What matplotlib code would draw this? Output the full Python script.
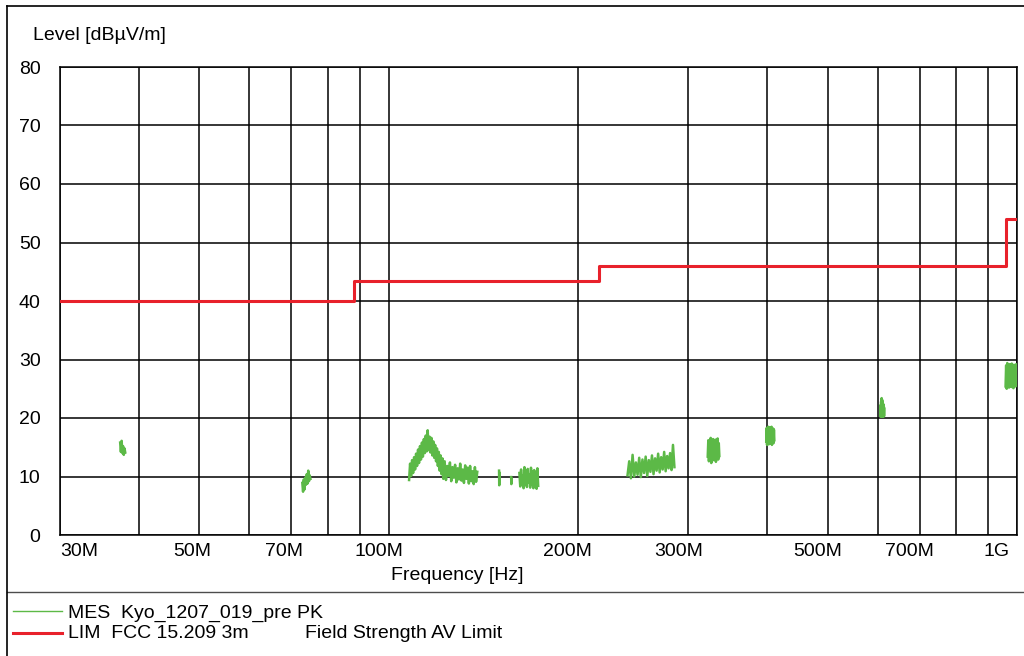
import matplotlib.pyplot as plt
from matplotlib.lines import Line2D
from matplotlib.transforms import ScaledTranslation

plt.rcParams['font.family'] = ['Liberation Sans', 'DejaVu Sans']
plt.rcParams['font.size'] = 14

# FCC 15.209 3m AV limit (MHz, dBuV/m)
lim_freq = [30, 88, 216, 960, 1000]
lim_level = [40, 43.5, 46, 54, 54]

seg1_f = [37.4, 37.5, 37.6, 37.7, 37.8, 37.9, 38.0, 38.1]
seg1_l = [15.8, 14.2, 16.1, 14.0, 15.2, 13.7, 14.8, 14.1]

seg2_f = [72.9, 73.1, 73.3, 73.5, 73.7, 73.9, 74.1, 74.3, 74.5, 74.7, 74.9, 75.1]
seg2_l = [8.9, 7.4, 9.5, 7.8, 9.8, 8.6, 10.4, 8.8, 11.0, 9.2, 10.2, 9.6]

seg3_f = [107.8, 108.2, 108.6, 109.0, 109.4, 109.8, 110.2, 110.6, 111.0, 111.4,
          111.8, 112.2, 112.6, 113.0, 113.4, 113.8, 114.2, 114.6, 115.0, 115.4,
          115.8, 116.2, 116.6, 117.0, 117.4, 117.8, 118.2, 118.6, 119.0, 119.4,
          119.8, 120.2, 120.6, 121.0, 121.4, 121.8, 122.2, 122.8, 123.4, 124.0,
          124.6, 125.2, 125.8, 126.4, 127.0, 127.6, 128.2, 128.8, 129.4, 130.0,
          130.6, 131.2, 131.8, 132.4, 133.0, 133.6, 134.2, 134.8, 135.4, 136.0,
          136.6, 137.2, 137.8, 138.4]
seg3_l = [9.4, 12.2, 10.1, 12.8, 10.6, 13.3, 11.2, 13.9, 11.8, 14.6,
          12.3, 15.2, 12.9, 15.8, 13.4, 16.4, 14.0, 17.0, 14.3, 17.9,
          14.5, 16.8, 14.1, 16.6, 13.6, 16.0, 13.2, 15.4, 12.6, 14.8,
          11.8, 14.2, 11.0, 13.6, 10.4, 13.1, 9.6, 12.6, 9.4, 11.8,
          10.1, 12.4, 9.2, 11.6, 9.8, 12.0, 9.0, 11.4, 9.5, 12.2,
          9.3, 11.2, 8.9, 11.9, 9.6, 11.5, 8.8, 11.8, 9.2, 10.9,
          8.7, 11.6, 9.1, 10.8]

seg4_f = [149.9, 150.0, 150.1]
seg4_l = [11.0, 8.5, 10.6]

seg5_f = [156.7, 156.8, 156.9]
seg5_l = [9.9, 8.7, 9.6]

seg6_f = [161.5, 162.0, 162.5, 163.0, 163.5, 164.0, 164.5, 165.0, 165.5, 166.0,
          166.5, 167.0, 167.5, 168.0, 168.5, 169.0, 169.5, 170.0, 170.5, 171.0,
          171.5, 172.0, 172.5, 173.0]
seg6_l = [10.6, 8.3, 11.2, 8.9, 10.1, 8.0, 11.6, 8.6, 10.8, 8.2,
          11.3, 9.0, 10.4, 8.1, 11.5, 8.7, 10.9, 8.0, 11.1, 8.5,
          10.7, 7.9, 11.4, 8.4]

seg7_f = [240, 241.5, 243, 244.5, 246, 247.5, 249, 250.5, 252, 253.5,
          255, 256.5, 258, 259.5, 261, 262.5, 264, 265.5, 267, 268.5,
          270, 271.5, 273, 274.5, 276, 277.5, 279, 280.5, 282, 283.5, 285]
seg7_l = [10.2, 12.6, 9.7, 13.7, 10.0, 12.4, 10.3, 13.2, 9.9, 12.9,
          10.6, 13.4, 10.1, 12.8, 10.8, 13.6, 10.4, 13.1, 11.0, 13.9,
          10.7, 13.3, 11.2, 14.2, 10.9, 13.5, 11.4, 14.0, 11.1, 15.4, 11.6]

seg8_f = [322.0, 322.7, 323.4, 324.1, 324.8, 325.5, 326.2, 326.9, 327.6, 328.3,
          329.0, 329.7, 330.4, 331.1, 331.8, 332.5, 333.2, 333.9, 334.6, 335.3, 336.0]
seg8_l = [13.4, 16.2, 12.6, 15.8, 13.1, 16.6, 12.3, 15.5, 13.6, 16.4,
          12.8, 15.9, 13.2, 16.3, 12.5, 15.6, 13.0, 16.5, 12.9, 15.7, 13.5]

seg9_f = [399.0, 399.6, 400.2, 400.8, 401.4, 402.0, 402.6, 403.2, 403.8, 404.4,
          405.0, 405.6, 406.2, 406.8, 407.4, 408.0, 408.6, 409.2, 409.8, 410.4, 411.0]
seg9_l = [16.0, 18.3, 15.4, 18.0, 15.8, 18.5, 15.5, 17.8, 16.1, 18.4,
          15.6, 18.1, 15.9, 18.5, 15.4, 17.9, 16.0, 18.2, 15.7, 18.0, 16.2]

seg10_f = [606.0, 606.6, 607.2, 607.8, 608.4, 609.0, 609.6, 610.2, 610.8, 611.4,
           612.0, 612.6, 613.2, 613.8, 614.4, 615.0]
seg10_l = [20.4, 22.2, 20.2, 22.8, 20.5, 23.4, 20.3, 23.1, 20.6, 22.7,
           20.2, 22.4, 20.5, 22.0, 20.3, 21.6]

seg11_f = [959, 961, 963, 965, 967, 969, 971, 973, 975, 977,
           979, 981, 983, 985, 987, 989, 991, 993, 995, 997, 999]
seg11_l = [25.4, 29.0, 25.0, 29.4, 25.6, 28.7, 25.2, 29.2, 25.8, 28.9,
           25.3, 29.3, 25.5, 28.6, 25.1, 29.1, 25.7, 28.8, 25.4, 29.2, 25.9]

segments = [(seg1_f, seg1_l), (seg2_f, seg2_l), (seg3_f, seg3_l), (seg4_f, seg4_l),
            (seg5_f, seg5_l), (seg6_f, seg6_l), (seg7_f, seg7_l), (seg8_f, seg8_l),
            (seg9_f, seg9_l), (seg10_f, seg10_l), (seg11_f, seg11_l)]

grid_freq = [30, 40, 50, 60, 70, 80, 90, 100, 200, 300, 400, 500, 600, 700, 800, 900, 1000]
tick_text = {30: '30M', 50: '50M', 70: '70M', 100: '100M', 200: '200M',
             300: '300M', 500: '500M', 700: '700M', 1000: '1G'}
# small horizontal nudges of the tick labels, in pixels
tick_shift = {30: 19, 50: -7, 70: -7, 100: -10, 200: -10, 300: -10,
              500: -10, 700: -10, 1000: -20}

green = '#5cb947'
red = '#e8212b'

fig = plt.figure(figsize=(10.24, 6.56), dpi=100)
W, H = 1024, 656
ax = fig.add_axes([60 / W, 1 - 535 / H, (1017 - 60) / W, (535 - 67) / H])

for f, l in segments:
    ax.plot(f, l, color=green, lw=1.8, solid_joinstyle='round', zorder=3)
ax.step(lim_freq, lim_level, where='post', color=red, lw=2.2, zorder=4)

ax.set_xscale('log')
ax.set_xlim(30, 1000)
ax.set_ylim(0, 80)
ax.set_xticks(grid_freq)
ax.set_xticklabels([tick_text.get(f, '') for f in grid_freq])
ax.xaxis.set_minor_locator(plt.NullLocator())
ax.set_yticks(range(0, 81, 10))
ax.tick_params(axis='both', length=0)
ax.tick_params(axis='x', pad=6)
ax.tick_params(axis='y', pad=14)
ax.grid(True, color='black', lw=1.1)
for s in ax.spines.values():
    s.set_color('black')
    s.set_linewidth(1.1)

for f, lab in zip(grid_freq, ax.get_xticklabels()):
    dx = tick_shift.get(f, 0)
    lab.set_transform(lab.get_transform() + ScaledTranslation(dx / 100, 0, fig.dpi_scale_trans))

fig.text(33 / W, 1 - 36 / H, 'Level [dBµV/m]', ha='left', va='center')
fig.text(457 / W, 1 - 576 / H, 'Frequency [Hz]', ha='center', va='center')

# outer frame and legend separator
fig.add_artist(Line2D([7 / W, 7 / W], [0, 1 - 6 / H], color='black', lw=1.2))
fig.add_artist(Line2D([7 / W, 1], [1 - 6 / H, 1 - 6 / H], color='black', lw=1.2))
fig.add_artist(Line2D([7 / W, 1], [1 - 592 / H, 1 - 592 / H], color='black', lw=1.0, alpha=0.7))

# legend
fig.add_artist(Line2D([13 / W, 62 / W], [1 - 611 / H, 1 - 611 / H], color=green, lw=1.0))
fig.add_artist(Line2D([13 / W, 62 / W], [1 - 633 / H, 1 - 633 / H], color=red, lw=2.2))
fig.text(68 / W, 1 - 613 / H, 'MES  Kyo_1207_019_pre PK', ha='left', va='center')
fig.text(68 / W, 1 - 633 / H, 'LIM  FCC 15.209 3m', ha='left', va='center')
fig.text(305 / W, 1 - 633 / H, 'Field Strength AV Limit', ha='left', va='center')

fig.savefig('out.png', dpi=100)
